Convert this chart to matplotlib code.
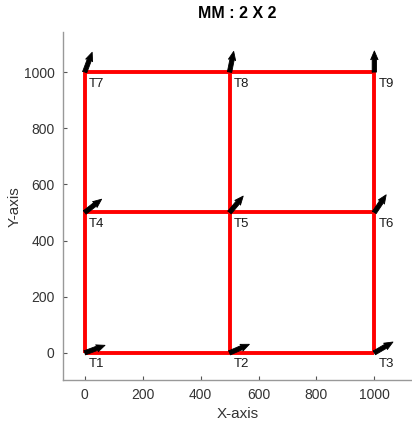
import numpy as np
import matplotlib
matplotlib.use("Agg")
import matplotlib.pyplot as plt

plt.rcParams['font.family'] = ['Liberation Sans', 'DejaVu Sans']

# grid node coordinates (3 x 3 mesh)
node_x = [0, 500, 1000, 0, 500, 1000, 0, 500, 1000]
node_y = [0, 0, 0, 500, 500, 500, 1000, 1000, 1000]
node_names = ["T1", "T2", "T3", "T4", "T5", "T6", "T7", "T8", "T9"]
# arrow heading of each node, degrees
arrow_deg = [21, 24, 31, 39, 51, 57, 70, 79, 90]
arrow_len = 75

grid_vals = [0, 500, 1000]
xticks = [0, 200, 400, 600, 800, 1000]
yticks = [0, 200, 400, 600, 800, 1000]

fig = plt.figure(figsize=(4.12, 4.29), dpi=100)
ax = fig.add_axes([0.153, 0.114, 0.847, 0.811])

# red mesh lines
for g in grid_vals:
    ax.plot([grid_vals[0], grid_vals[-1]], [g, g], color="red", lw=2.8,
            solid_capstyle="butt", zorder=2)
    ax.plot([g, g], [grid_vals[0], grid_vals[-1]], color="red", lw=2.8,
            solid_capstyle="butt", zorder=2)

ang = np.radians(arrow_deg)
u = arrow_len * np.cos(ang)
v = arrow_len * np.sin(ang)
ax.quiver(node_x, node_y, u, v, angles="xy", scale_units="xy", scale=1,
          color="black", width=0.0125, headwidth=1.7, headlength=2.0,
          headaxislength=1.8, edgecolor="black", linewidth=0.6,
          joinstyle="round", capstyle="round", zorder=3)

for x, y, name in zip(node_x, node_y, node_names):
    ax.annotate(name, (x, y), xytext=(3, -4), textcoords="offset points",
                ha="left", va="top", fontsize=9.5, color="#1a1a1a")

ax.set_xlim(-75, 1130)
ax.set_ylim(-97, 1142)
ax.set_xticks(xticks)
ax.set_yticks(yticks)

for side in ["top", "right"]:
    ax.spines[side].set_visible(False)
for side in ["left", "bottom"]:
    ax.spines[side].set_color("#999999")
    ax.spines[side].set_linewidth(1.0)

ax.tick_params(direction="in", length=3, width=0.8, color="#555555",
               labelsize=10, labelcolor="#333333", pad=6)

ax.set_xlabel("X-axis", fontsize=11, color="#333333", labelpad=3)
ax.set_ylabel("Y-axis", fontsize=11, color="#333333", labelpad=3)
ax.yaxis.set_label_coords(-0.12, 0.5)
ax.set_title("MM : 2 X 2", fontsize=11.5, fontweight="bold", pad=10)

fig.savefig("out.png", dpi=100)
plt.close()
